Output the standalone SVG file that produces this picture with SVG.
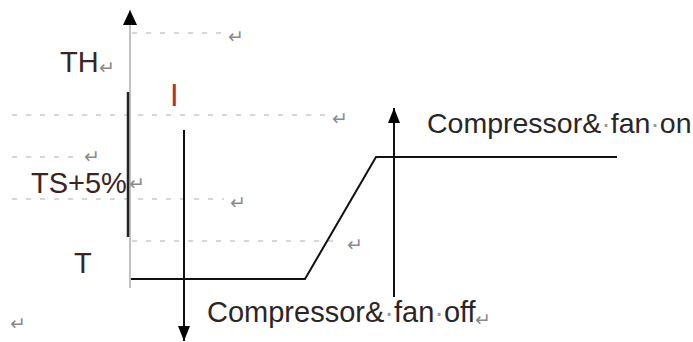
<svg xmlns="http://www.w3.org/2000/svg" width="693" height="342" viewBox="0 0 693 342">
<style>
.lbl{font-family:"Liberation Sans",Arial,sans-serif;font-size:29px;fill:#2b2626}
.tl{fill:#3a2424}
.ret{font-family:"DejaVu Sans",sans-serif;font-size:19px;fill:#8a8a8a}
.dot{fill:#9a9a9a}
.dash{stroke:#b0b0b0;stroke-width:1.2;stroke-dasharray:5 9;fill:none}
.ln{stroke:#111;stroke-width:2;fill:none}
</style>
<defs>
<marker id="ah" viewBox="0 0 15 14" refX="15" refY="7" markerWidth="15" markerHeight="14" orient="auto" markerUnits="userSpaceOnUse">
<path d="M0,0 L15,7 L0,14 z" fill="#000"/>
</marker>
<marker id="ah2" viewBox="0 0 15 12" refX="15" refY="6" markerWidth="15" markerHeight="12" orient="auto" markerUnits="userSpaceOnUse">
<path d="M0,0 L15,6 L0,12 z" fill="#000"/>
</marker>
</defs>
<rect width="693" height="342" fill="#fff"/>
<g id="connectors">
<line class="dash" x1="132" y1="33" x2="224" y2="33"/>
<line class="dash" x1="12" y1="115" x2="328" y2="115"/>
<line class="dash" x1="12" y1="157" x2="82" y2="157"/>
<line class="dash" x1="12" y1="199" x2="224" y2="199"/>
<line class="dash" x1="132" y1="241" x2="340" y2="241"/>
<line x1="130" y1="288" x2="130" y2="10" stroke="#999" stroke-width="1.2" marker-end="url(#ah)"/>
<line x1="128" y1="92" x2="128" y2="237" stroke="#222" stroke-width="2.5"/>
<line class="ln" x1="184" y1="130" x2="184" y2="341" marker-end="url(#ah2)"/>
<polyline class="ln" points="131,279 305,279 376,157 617,157"/>
<line class="ln" x1="394" y1="297" x2="394" y2="108" marker-end="url(#ah2)"/>
</g>
<g id="label-th"><text class="lbl tl" x="60" y="72">TH</text><text class="ret" x="99" y="74">↵</text></g>
<g id="label-ts"><text class="lbl tl" x="31" y="193">TS+5%</text><text class="ret" x="129" y="190">↵</text></g>
<g id="label-t"><text class="lbl tl" x="74" y="273">T</text></g>
<g id="label-i"><text x="170" y="106" font-family="Liberation Sans,Arial,sans-serif" font-size="31" fill="#b03030">I</text></g>
<g id="label-on"><text class="lbl" x="427" y="133" font-size="28.5" style="font-size:28.5px">Compressor&amp;<tspan class="dot">·</tspan>fan<tspan class="dot">·</tspan>on</text></g>
<g id="label-off"><text class="lbl" x="207" y="322">Compressor&amp;<tspan class="dot">·</tspan>fan<tspan class="dot">·</tspan>off</text><text class="ret" x="475" y="326">↵</text></g>
<g id="marks">
<text class="ret" x="228" y="43">↵</text>
<text class="ret" x="332" y="125">↵</text>
<text class="ret" x="84" y="163">↵</text>
<text class="ret" x="230" y="209">↵</text>
<text class="ret" x="347" y="251">↵</text>
<text class="ret" x="10" y="330">↵</text>
</g>
</svg>
